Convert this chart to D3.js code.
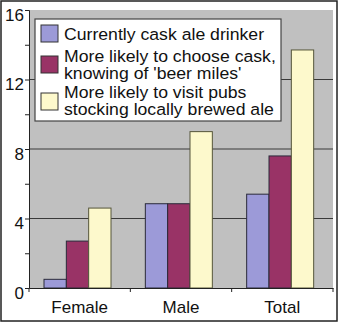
<!DOCTYPE html>
<html><head><meta charset="utf-8">
<script src="https://cdn.jsdelivr.net/npm/d3@7"></script>
<style>body{margin:0;background:#fff}svg{display:block}text{font-family:"Liberation Sans",Arial,sans-serif;fill:#111}</style>
</head><body><svg id="c" width="339" height="323"></svg>
<script>
const categories = ["Female", "Male", "Total"];
const seriesNames = ["Currently cask ale drinker", "More likely to choose cask,\nknowing of 'beer miles'", "More likely to visit pubs\nstocking locally brewed ale"];
const currentDrinker = [0.5, 4.85, 5.4];
const chooseCask = [2.7, 4.85, 7.6];
const visitPubs = [4.6, 9.0, 13.7];
const yTicks = [0, 2, 4, 6, 8, 10, 12, 14, 16];
const yLabels = [0, 4, 8, 12, 16];
const colors = ["#9c9ad8", "#993366", "#fdf9cc"];

const series = [currentDrinker, chooseCask, visitPubs];
const svg = d3.select("#c");
svg.append("rect").attr("x",1).attr("y",1).attr("width",336).attr("height",320).attr("fill","#fff").attr("stroke","#222").attr("stroke-width",1.5);

const L=29,R=333,T=10,B=288;
const x = d3.scaleBand().domain(categories).range([L,R]);
const xs = d3.scaleBand().domain([0,1,2]).range([15,15+67]);
const y = d3.scaleLinear().domain([0,16]).range([B,T]);

svg.append("rect").attr("x",L).attr("y",T).attr("width",R-L).attr("height",B-T).attr("fill","#c0c0c0");
svg.append("g").selectAll("line").data([4,8,12]).join("line")
 .attr("x1",L).attr("x2",R).attr("y1",d=>y(d)).attr("y2",d=>y(d)).attr("stroke","#3a3a3a").attr("stroke-width",1);

const g = svg.append("g");
categories.forEach((c,ci)=>{
  series.forEach((s,si)=>{
    g.append("rect").attr("x",x(c)+xs(si)).attr("y",y(s[ci])).attr("width",xs.bandwidth()).attr("height",B-y(s[ci]))
     .attr("fill",colors[si]).attr("stroke",si==2?"#55553a":"#2a2a3a").attr("stroke-width",1);
  });
});

// y axis
const ya = svg.append("g").attr("transform",`translate(${L},0)`)
 .call(d3.axisLeft(y).tickValues(yTicks).tickSize(4).tickFormat(d=>yLabels.includes(d)?d:""));
ya.select(".domain").attr("stroke","#222");
ya.selectAll(".tick line").attr("stroke","#222");
ya.selectAll("text").attr("font-size",17).attr("fill","#111").attr("x",-5).attr("dy","0.6em");
// x axis
const xa = svg.append("g").attr("transform",`translate(0,${B})`)
 .call(d3.axisBottom(x).tickSize(0).tickFormat(""));
xa.select(".domain").attr("stroke","#222");
svg.append("g").selectAll("line").data(categories.concat(["end"])).join("line")
 .attr("x1",(d,i)=>L+i*x.step()).attr("x2",(d,i)=>L+i*x.step()).attr("y1",B).attr("y2",B+4).attr("stroke","#222");
svg.append("g").selectAll("text").data(categories).join("text")
 .attr("x",d=>x(d)+x.bandwidth()/2).attr("y",313).attr("text-anchor","middle").attr("font-size",17).text(d=>d);

// legend
const lg = svg.append("g");
lg.append("rect").attr("x",35).attr("y",19).attr("width",246).attr("height",102).attr("fill","#fff").attr("stroke","#444").attr("stroke-width",1.2);
const swY=[25,56,93], txtY=[[40],[61.5,78.5],[97.8,115]];
seriesNames.forEach((n,i)=>{
  lg.append("rect").attr("x",41).attr("y",swY[i]).attr("width",17).attr("height",17).attr("fill",colors[i]).attr("stroke","#333");
  n.split("\n").forEach((line,j)=>{
    lg.append("text").attr("transform",`translate(64,${txtY[i][j]}) scale(1.07,1)`).attr("font-size",16.5).text(line);
  });
});
</script></body></html>
